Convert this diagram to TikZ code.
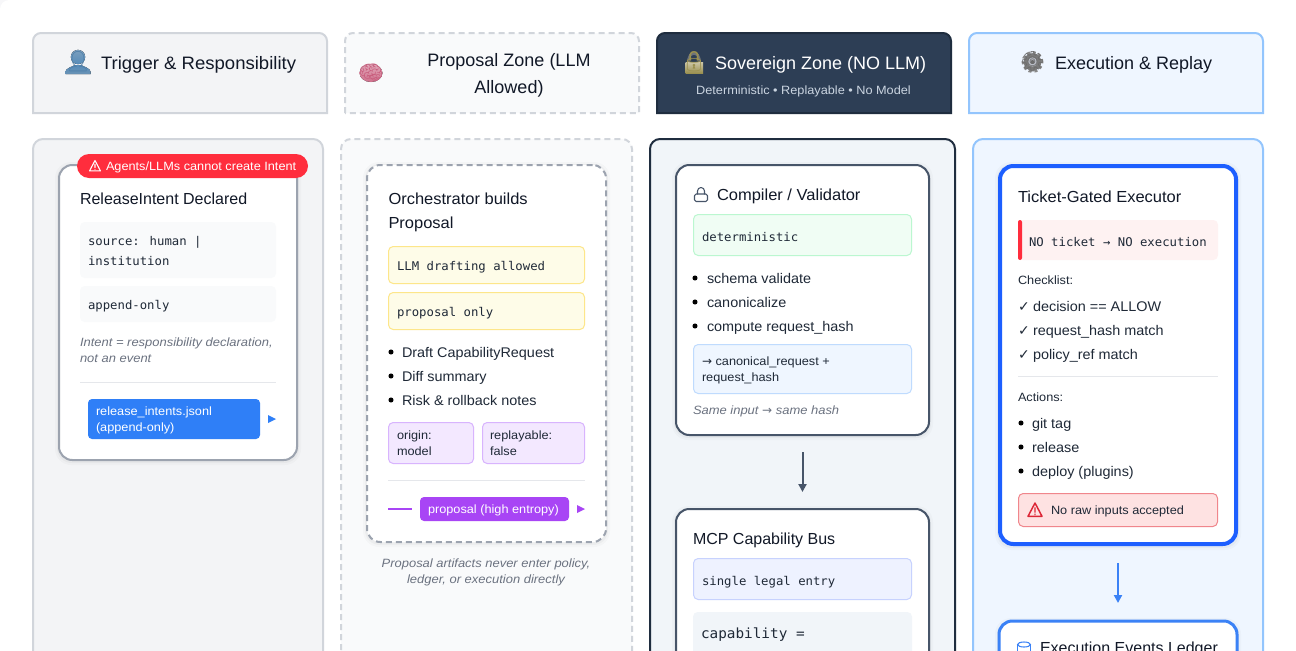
\documentclass[tikz,border=0pt]{standalone}
\usepackage{fontspec}
\usetikzlibrary{arrows.meta}
\setmainfont[FakeStretch=1.03]{Liberation Sans}
\newfontfamily\headf{Liberation Sans}
\newfontfamily\smallf[FakeStretch=1.06]{Liberation Sans}
\newfontfamily\notef[FakeStretch=1.08]{Liberation Sans}
\newfontfamily\monof[FakeStretch=1.025]{DejaVu Sans Mono}
\newfontfamily\djf{DejaVu Sans}
\newfontfamily\emof{Noto Emoji}
\definecolor{ink}{HTML}{111827}
\definecolor{body}{HTML}{1F2937}
\definecolor{muted}{HTML}{6B7280}
\definecolor{hairline}{HTML}{E5E7EB}
\definecolor{gray1}{HTML}{F3F4F6}
\definecolor{gray2}{HTML}{D1D5DB}
\definecolor{gray3}{HTML}{9CA3AF}
\definecolor{gray0}{HTML}{F9FAFB}
\definecolor{navy}{HTML}{2D3E55}
\definecolor{navyd}{HTML}{1F2D3F}
\definecolor{slate}{HTML}{475569}
\definecolor{slatebg}{HTML}{F1F5F9}
\definecolor{sky}{HTML}{EFF6FF}
\definecolor{skyb}{HTML}{93C5FD}
\definecolor{skyc}{HTML}{BFDBFE}
\definecolor{blue1}{HTML}{2F7FF7}
\definecolor{blue2}{HTML}{1D5FFF}
\definecolor{blue3}{HTML}{3B82F6}
\definecolor{redb}{HTML}{FF2D3D}
\definecolor{rosebg}{HTML}{FEF2F2}
\definecolor{rose}{HTML}{FEE2E2}
\definecolor{roseb}{HTML}{F0868C}
\definecolor{redi}{HTML}{DC2636}
\definecolor{yelbg}{HTML}{FEFCE8}
\definecolor{yelb}{HTML}{FDE68A}
\definecolor{purbg}{HTML}{F3E8FF}
\definecolor{purb}{HTML}{D8B4FE}
\definecolor{pur}{HTML}{A845F5}
\definecolor{grnbg}{HTML}{F0FDF4}
\definecolor{grnb}{HTML}{BBF7D0}
\definecolor{indbg}{HTML}{EEF2FF}
\definecolor{indb}{HTML}{C7D2FE}
\definecolor{subt}{HTML}{CBD5E1}
\definecolor{emo1}{HTML}{4F7FA8}
\definecolor{emo2}{HTML}{C9607F}
\definecolor{emo3}{HTML}{9A9050}
\definecolor{emo4}{HTML}{6B6B6B}
\newcommand\szA{\fontsize{9}{11}\selectfont}
\newcommand\szB{\fontsize{10.5}{12}\selectfont}
\newcommand\szC{\fontsize{12}{14}\selectfont}
\newcommand\szD{\fontsize{13.5}{16}\selectfont}
\tikzset{
  tl/.style={anchor=base west,inner sep=0pt,outer sep=0pt,text=body},
  tc/.style={anchor=base,inner sep=0pt,outer sep=0pt},
  head/.style={tl,font=\headf\szD,text=ink},
  title/.style={tl,font=\szC,text=ink},
  titleb/.style={tl,font=\headf\szC,text=ink},
  item/.style={tl,font=\szB},
  small/.style={tl,font=\smallf\szA},
  note/.style={tl,font=\notef\szA\itshape,text=muted},
  notec/.style={tc,font=\notef\szA\itshape,text=muted},
  code/.style={tl,font=\monof\szA},
  emoji/.style={anchor=center,inner sep=0pt,outer sep=0pt,font=\emof\fontsize{15}{16}\selectfont},
  dsh/.style={dash pattern=on 4.5pt off 3pt},
  hd/.style={line width=1.5pt},
  pan/.style={line width=1.5pt},
  boxn/.style={rounded corners=3.5pt,line width=.75pt},
  codebg/.style={boxn,fill=gray0},
  rule/.style={draw=hairline,line width=.75pt},
  dot/.style={fill=black},
  arr/.style={line width=1.5pt,-{Triangle[length=6pt,width=6pt]}},
  icon/.style={line width=.8pt,line join=round,line cap=round},
}
\newcommand\bx[6]{\pgfmathsetmacro\bw{(#5-#3)*0.75}\pgfmathsetmacro\bh{(#6-#4)*0.75}%
  \node[#2,anchor=north west,minimum width=\bw pt,minimum height=\bh pt,inner sep=0pt,outer sep=0pt] (#1) at (#3,#4) {};}
\newcommand\hdr[5]{\draw[hd,#1] (#2,#5) -- (#2,#3+8) .. controls (#2,#3+3.6) and (#2+3.6,#3) .. (#2+8,#3) -- (#4-8,#3) .. controls (#4-3.6,#3) and (#4,#3+3.6) .. (#4,#3+8) -- (#4,#5) -- cycle;}
\newcommand\pnl[5]{\draw[pan,#1] (#2,#5) [rounded corners=7.5pt] -- (#2,#3) -- (#4,#3) -- (#4,#5);}
\newcommand\warn[4]{\draw[icon,#1] (#2-#4,#3+#4*.9) -- (#2,#3-#4) -- (#2+#4,#3+#4*.9) -- cycle (#2,#3-#4*.3) -- (#2,#3+#4*.3) (#2,#3+#4*.6) -- (#2,#3+#4*.62);}
\newcommand\shd[4]{\fill[black,opacity=.018,rounded corners=12pt] (#1-4,#2-3) rectangle (#3+4,#4+5);
  \fill[black,opacity=.03,rounded corners=11pt] (#1-2,#2-1) rectangle (#3+2,#4+3);}
\begin{document}
\begin{tikzpicture}[x=0.75pt,y=-0.75pt]
\useasboundingbox (0,0) rectangle (1296,650);
\clip (0,0) rectangle (1296,650);
\fill[gray1!70] (0,0) rectangle (12,12);
\fill[white,rounded corners=7pt] (0,0) rectangle (1310,670);
% headers
\hdr{fill=gray1,draw=gray2}{33}{33}{327}{113}
\hdr{fill=gray0,draw=gray2,dsh}{345}{33}{639}{113}
\hdr{fill=navy,draw=navyd}{657}{33}{951}{113}
\hdr{fill=sky,draw=skyb}{969}{33}{1263}{113}
% emoji: person
\fill[top color=emo1!75,bottom color=emo1!110!black] (78,57) circle[radius=5.4pt];
\fill[top color=emo1!110!black,bottom color=emo1!85] (65.5,74) -- (65.5,71.5) .. controls (66,68.5) and (71,67) .. (75,65) -- (81,65) .. controls (85,67) and (90,68.5) .. (90.5,71.5) -- (90.5,74) -- cycle;
\node[emoji,text=emo1] (e1) at (78,62) {^^^^^^01f464};
\node[tl,font=\szD,text=ink] (h1) at (101,69) {Trigger \& Responsibility};
% emoji: brain
\fill[top color=emo2!55!white,bottom color=emo2!90] (371,73) ellipse[x radius=11.5,y radius=9];
\node[emoji,text=emo2] (e2) at (371,73) {^^^^^^01f9e0};
\node[tc,font=\headf\szD,text=ink] (h2a) at (509,66) {Proposal Zone (LLM};
\node[tc,font=\headf\szD,text=ink] (h2b) at (509,93) {Allowed)};
% emoji: lock
\draw[line width=1.7pt,draw=gray3!70!black] (688.5,63) -- (688.5,59) arc[start angle=180,end angle=360,radius=5.5] -- (699.5,63);
\fill[top color=emo3!50!white,bottom color=emo3] (685.5,62) rectangle (703,73);
\node[emoji,text=emo3] (e3) at (694,62) {^^^^^^01f512};
\node[head,text=white] (h3) at (715,69) {Sovereign Zone (NO LLM)};
\node[tc,font=\smallf\szA,text=subt] (h3s) at (803.5,94) {Deterministic • Replayable • No Model};
% emoji: gear
\draw[draw=emo4!80,line width=2pt,dash pattern=on 2.2pt off 2.2pt] (1032.5,62) circle[radius=7.2pt];
\fill[emo4!90] (1032.5,62) circle[radius=6.6pt];
\fill[gray3!70] (1032.5,62) circle[radius=3.4pt];
\fill[emo4] (1032.5,62) circle[radius=1.5pt];
\node[emoji,text=emo4] (e4) at (1032.5,62) {^^^^2699};
\node[head] (h4) at (1055,69) {Execution \& Replay};
% panels
\pnl{fill=gray1,draw=gray2}{33}{139}{323}{680}
\pnl{fill=gray0,draw=gray2,dsh}{341}{139}{632}{680}
\pnl{fill=slatebg,draw=navyd}{650}{139}{955}{680}
\pnl{fill=sky,draw=skyb}{973}{139}{1263}{680}
% card 1
\shd{59}{165}{297}{460}
\bx{c1}{draw=gray3,fill=white,line width=1.5pt,rounded corners=10pt}{59}{165}{297}{460}
\node[titleb] (c1t) at (80,204) {ReleaseIntent Declared};
\bx{c1a}{codebg}{80}{222}{276}{278}
\node[code] (c1a1) at (88,245) {source: human |};
\node[code] (c1a2) at (88,265) {institution};
\bx{c1b}{codebg}{80}{286}{276}{322}
\node[code] (c1b1) at (88,309) {append-only};
\node[note] (c1n1) at (80,346) {Intent = responsibility declaration,};
\node[note] (c1n2) at (80,362) {not an event};
\draw[rule] (80,382.5) -- (276,382.5);
\bx{c1f}{fill=blue1,rounded corners=3pt}{88}{399}{260}{439}
\node[small,text=white] (c1f1) at (96,415) {release\_intents.jsonl};
\node[small,text=white] (c1f2) at (96,431) {(append-only)};
\fill[blue1] (268,415) -- (276,419) -- (268,423) -- cycle;
\bx{bad}{fill=redb,rounded corners=9pt}{77}{154}{308}{178}
\warn{draw=white}{95}{166}{5.5}
\node[small,text=white] (badt) at (106,170.5) {Agents/LLMs cannot create Intent};
% card 2
\shd{367}{165}{606}{542}
\bx{c2}{draw=gray3,fill=white,line width=1.5pt,rounded corners=10pt,dsh}{367}{165}{606}{542}
\node[title] (c2t1) at (388.5,204) {Orchestrator builds};
\node[title] (c2t2) at (388.5,228) {Proposal};
\bx{c2a}{boxn,fill=yelbg,draw=yelb}{388.5}{246.5}{584.5}{283.5}
\node[code] (c2a1) at (397,270) {LLM drafting allowed};
\bx{c2b}{boxn,fill=yelbg,draw=yelb}{388.5}{292.5}{584.5}{329.5}
\node[code] (c2b1) at (397,316) {proposal only};
\fill[dot] (391,352) circle[radius=1.9pt] (391,376) circle[radius=1.9pt] (391,400) circle[radius=1.9pt];
\node[item] (c2i1) at (402,357) {Draft CapabilityRequest};
\node[item] (c2i2) at (402,381) {Diff summary};
\node[item] (c2i3) at (402,405) {Risk \& rollback notes};
\bx{c2p}{boxn,fill=purbg,draw=purb}{388.5}{422.5}{473.5}{463.5}
\node[small] (c2p1) at (397,439) {origin:};
\node[small] (c2p2) at (397,455) {model};
\bx{c2q}{boxn,fill=purbg,draw=purb}{482.5}{422.5}{584.5}{463.5}
\node[small] (c2q1) at (490,439) {replayable:};
\node[small] (c2q2) at (490,455) {false};
\draw[rule] (388,480.5) -- (585,480.5);
\draw[pur,line width=1.5pt] (388,509) -- (412,509);
\bx{c2f}{fill=pur,rounded corners=3pt}{420}{497}{569}{521}
\node[small,text=white] (c2f1) at (428,513) {proposal (high entropy)};
\fill[pur] (577,505) -- (585,509) -- (577,513) -- cycle;
\node[notec] (c2n1) at (486,567) {Proposal artifacts never enter policy,};
\node[notec] (c2n2) at (486,583) {ledger, or execution directly};
% card 3a
\shd{676}{165}{929}{435}
\bx{c3}{draw=slate,fill=white,line width=1.5pt,rounded corners=10pt}{676}{165}{929}{435}
\draw[icon,draw=slate,rounded corners=1.2pt] (694.5,194) rectangle (707.5,201.5);
\draw[icon,draw=slate] (697.5,194) -- (697.5,191) arc[start angle=180,end angle=360,radius=3.5] -- (704.5,194);
\node[title] (c3t) at (717,200) {Compiler / Validator};
\bx{c3a}{boxn,fill=grnbg,draw=grnb}{693.5}{214.5}{911.5}{255.5}
\node[code] (c3a1) at (702,241) {deterministic};
\fill[dot] (695,278) circle[radius=1.9pt] (695,302) circle[radius=1.9pt] (695,326) circle[radius=1.9pt];
\node[item] (c3i1) at (707,283) {schema validate};
\node[item] (c3i2) at (707,307) {canonicalize};
\node[item] (c3i3) at (707,331) {compute request\_hash};
\bx{c3b}{boxn,fill=sky,draw=skyc}{693.5}{344.5}{911.5}{393.5}
\node[small] (c3b1) at (702,365) {{\djf →} canonical\_request +};
\node[small] (c3b2) at (702,381) {request\_hash};
\node[note] (c3n) at (693,414) {Same input {\upshape\djf →} same hash};
% card 3b
\shd{676}{509}{929}{720}
\bx{c5}{draw=slate,fill=white,line width=1.5pt,rounded corners=10pt}{676}{509}{929}{720}
\draw[arr,draw=slate] ([yshift=-12.75pt]c3.south) -- ([yshift=12.75pt]c5.north);
\node[titleb] (c5t) at (693,544) {MCP Capability Bus};
\bx{c5a}{boxn,fill=indbg,draw=indb}{693.5}{558.5}{911.5}{599.5}
\node[code] (c5a1) at (702,585) {single legal entry};
\bx{c5b}{boxn,fill=slatebg}{693}{612}{912}{700}
\node[tl,font=\monof\szB] (c5b1) at (701,638) {capability =};
% card 4a
\shd{999}{165}{1237}{545}
\bx{c4}{draw=blue2,fill=white,line width=3pt,rounded corners=10pt}{1000}{166}{1236}{544}
\node[title] (c4t) at (1018,202) {Ticket-Gated Executor};
\bx{c4a}{fill=rosebg,rounded corners=3.5pt}{1018}{220}{1218}{260}
\fill[redb,rounded corners=1.5pt] (1018,220) rectangle (1022,260);
\node[code] (c4a1) at (1029,246) {NO ticket → NO execution};
\node[small] (c4l1) at (1018,284) {Checklist:};
\node[item] (c4k1) at (1018,311) {{\djf ✓}};
\node[item] (c4k2) at (1018,335) {{\djf ✓}};
\node[item] (c4k3) at (1018,359) {{\djf ✓}};
\node[item] (c4c1) at (1033,311) {decision == ALLOW};
\node[item] (c4c2) at (1033,335) {request\_hash match};
\node[item] (c4c3) at (1033,359) {policy\_ref match};
\draw[rule] (1018,376.5) -- (1218,376.5);
\node[small] (c4l2) at (1018,401) {Actions:};
\fill[dot] (1021,423) circle[radius=1.9pt] (1021,447) circle[radius=1.9pt] (1021,471) circle[radius=1.9pt];
\node[item] (c4i1) at (1032,428) {git tag};
\node[item] (c4i2) at (1032,452) {release};
\node[item] (c4i3) at (1032,476) {deploy (plugins)};
\bx{c4b}{boxn,fill=rose,draw=roseb}{1018.5}{493.5}{1217.5}{526.5}
\warn{draw=redi,line width=1.1pt}{1035}{510}{7}
\node[small] (c4b1) at (1051,514) {No raw inputs accepted};
% card 4b
\shd{999}{621}{1237}{720}
\bx{c6}{draw=blue3,fill=white,line width=2.25pt,rounded corners=10pt}{999}{621}{1237}{720}
\draw[arr,draw=blue3] ([yshift=-14.25pt]c4.south) -- ([yshift=13.5pt]c6.north);
\draw[icon,draw=blue3] (1017.5,644.5) -- (1017.5,655) (1030.5,644.5) -- (1030.5,655);
\draw[icon,draw=blue3] (1024,644.5) ellipse[x radius=6.5,y radius=2.5];
\node[titleb] (c6t) at (1040,653) {Execution Events Ledger};
\end{tikzpicture}
\end{document}
